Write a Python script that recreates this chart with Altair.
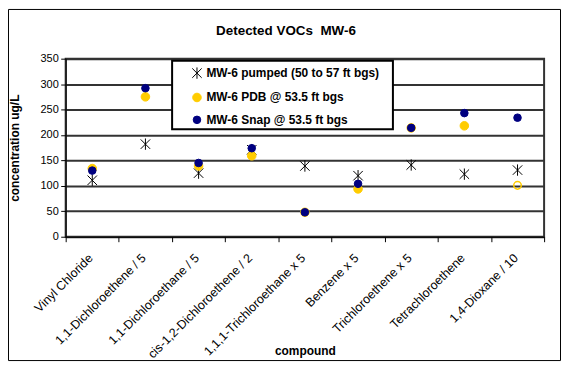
import altair as alt
import pandas as pd

compounds = [
    "Vinyl Chloride",
    "1,1-Dichloroethene / 5",
    "1,1-Dichloroethane / 5",
    "cis-1,2-Dichloroethene / 2",
    "1,1,1-Trichloroethane x 5",
    "Benzene x 5",
    "Trichloroethene x 5",
    "Tetrachloroethene",
    "1,4-Dioxane / 10",
]
series_names = [
    "MW-6 pumped (50 to 57 ft bgs)",
    "MW-6 PDB @ 53.5 ft bgs",
    "MW-6 Snap @ 53.5 ft bgs",
]
pumped = [111, 182, 125, 171, 139, 120, 141, 123, 131]
pdb = [134, 275, 139, 159, 48, 94, 214, 218, 101]
snap = [130, 292, 145, 174, 48, 104, 214, 243, 234]
# PDB non-detect (open marker) flags
pdb_nd = [False, False, False, False, False, False, False, False, True]
title_text = "Detected VOCs \u00a0MW-6"

rows = []
for s, vals in zip(series_names, [pumped, pdb, snap]):
    for i, (c, v) in enumerate(zip(compounds, vals)):
        nd = (s == series_names[1]) and pdb_nd[i]
        rows.append({"compound": c, "series": s, "value": v, "nd": nd})
df = pd.DataFrame(rows)

FONT = "Liberation Sans"
W, H = 557, 355
PL, PT = 58, 50
PW, PH = 481, 179
PR = W - PL - PW
PB = H - PT - PH

asterisk = "M-1,-1L1,1M1,-1L-1,1M0,-1.2L0,1.2"
gold = "#FFCC00"
navy = "#000080"

xenc = alt.X(
    "compound:N",
    sort=compounds,
    scale=alt.Scale(paddingInner=0, paddingOuter=0),
    axis=alt.Axis(
        title="compound",
        labelAngle=315,
        labelAlign="right",
        labelBaseline="middle",
        labelPadding=14,
        labelOffset=-2,
        labelFontSize=12.5,
        labelFont=FONT,
        labelColor="black",
        labelOverlap=False,
        labelBound=False,
        labelFlush=False,
        labelLimit=300,
        tickBand="extent",
        tickSize=5,
        tickColor="black",
        domainColor="black",
        domainWidth=1,
        grid=False,
        titleFont=FONT,
        titleFontSize=12,
        titleFontWeight="bold",
        titleColor="black",
        titleX=PW / 2,
        titleY=114,
        titleBaseline="middle",
        titleAlign="center",
    ),
)
yenc = alt.Y(
    "value:Q",
    scale=alt.Scale(domain=[0, 350], nice=False, zero=True),
    axis=alt.Axis(
        title="concentration ug/L",
        values=[0, 50, 100, 150, 200, 250, 300, 350],
        labelFontSize=11,
        labelFont=FONT,
        labelColor="black",
        labelPadding=2.5,
        tickSize=5,
        tickColor="black",
        domainColor="black",
        domainWidth=1,
        grid=True,
        gridColor="#333333",
        gridWidth=2,
        titleFont=FONT,
        titleFontSize=12,
        titleFontWeight="bold",
        titleColor="black",
        titleAngle=270,
        titleX=-51,
        titleY=PH / 2,
        titleBaseline="middle",
        titleAlign="center",
    ),
)

frame = alt.Chart(alt.Data(values=[{}])).mark_rect(
    fill=None, stroke="black", strokeWidth=1
).encode(
    x=alt.value(-PL + 0.5), x2=alt.value(PW + PR - 1.5),
    y=alt.value(-PT + 0.5), y2=alt.value(PH + PB - 1.5),
)

title_mark = alt.Chart(alt.Data(values=[{"t": title_text}])).mark_text(
    font=FONT, fontSize=13.5, fontWeight="bold", color="black",
    align="center", baseline="alphabetic"
).encode(text="t:N", x=alt.value(221.5), y=alt.value(-24))

legend_box = alt.Chart(alt.Data(values=[{}])).mark_rect(
    fill="white", stroke="black", strokeWidth=2
).encode(
    x=alt.value(107), x2=alt.value(329), y=alt.value(2), y2=alt.value(71)
)

points = alt.Chart(df).transform_filter("!datum.nd").mark_point(
    filled=False, opacity=1, strokeWidth=1
).encode(
    x=xenc,
    y=yenc,
    color=alt.Color(
        "series:N",
        scale=alt.Scale(domain=series_names, range=["black", gold, navy]),
        legend=alt.Legend(
            title=None,
            orient="none",
            legendX=126,
            legendY=8.5,
            padding=0,
            symbolSize=45,
            symbolStrokeWidth=1,
            labelFont=FONT,
            labelFontSize=12,
            labelFontWeight="bold",
            labelColor="black",
            labelOffset=3.5,
            rowPadding=9.5,
            labelLimit=400,
        ),
    ),
    fill=alt.Fill(
        "series:N",
        scale=alt.Scale(domain=series_names, range=["transparent", gold, navy]),
    ),
    shape=alt.Shape(
        "series:N",
        scale=alt.Scale(domain=series_names, range=[asterisk, "circle", "circle"]),
    ),
    size=alt.Size(
        "series:N",
        scale=alt.Scale(domain=series_names, range=[90, 58, 32]),
        legend=None,
    ),
)

nd_points = alt.Chart(df).transform_filter("datum.nd").mark_point(
    shape="circle", filled=False, fill="transparent", stroke=gold,
    strokeWidth=1.5, size=58, opacity=1
).encode(x=xenc, y=yenc)

chart = alt.layer(frame, title_mark, points, nd_points, legend_box).properties(
    width=PW,
    height=PH,
    padding={"left": PL, "top": PT, "right": PR, "bottom": PB},
    autosize=alt.AutoSizeParams(type="none"),
    background="white",
).configure_view(stroke="#333333", strokeWidth=2)

chart.save("out.html", embed_options={"renderer": "svg", "actions": False})
